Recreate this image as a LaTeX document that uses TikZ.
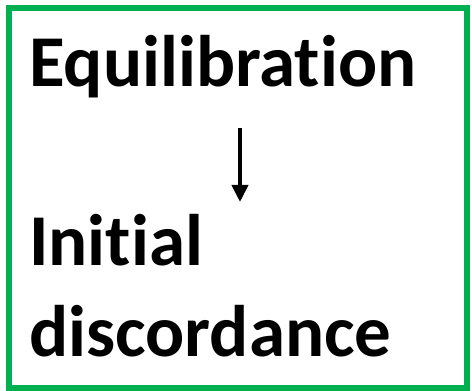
\documentclass[tikz,border=0pt]{standalone}
\usepackage{fontspec}
\setmainfont{Carlito}[Ligatures=NoCommon]
\usetikzlibrary{arrows.meta}
\definecolor{framegreen}{RGB}{0,176,80}
\begin{document}
\begin{tikzpicture}[
    x=1pt, y=1pt,
    bigword/.style={anchor=base west, inner sep=0pt, font=\fontsize{73}{88}\selectfont\bfseries}
]
\useasboundingbox (0,0) rectangle (472,391);

% Frame
\draw[framegreen, line width=6.5pt] (9,3) rectangle (467,383);

% Upper word
\node[bigword] (equil) at (29,304) {Equilibration};

% Lower words
\node[bigword] (initial) at (29,125) {Initial};
\node[bigword] (discord) at (29,34) {discordance};

% Arrow
\coordinate (arrstart) at (240,263);
\coordinate (arrend) at (240,189);
\draw[-{Triangle[width=16pt, length=17pt]}, line width=4pt] (arrstart) -- (arrend);

\end{tikzpicture}
\end{document}
